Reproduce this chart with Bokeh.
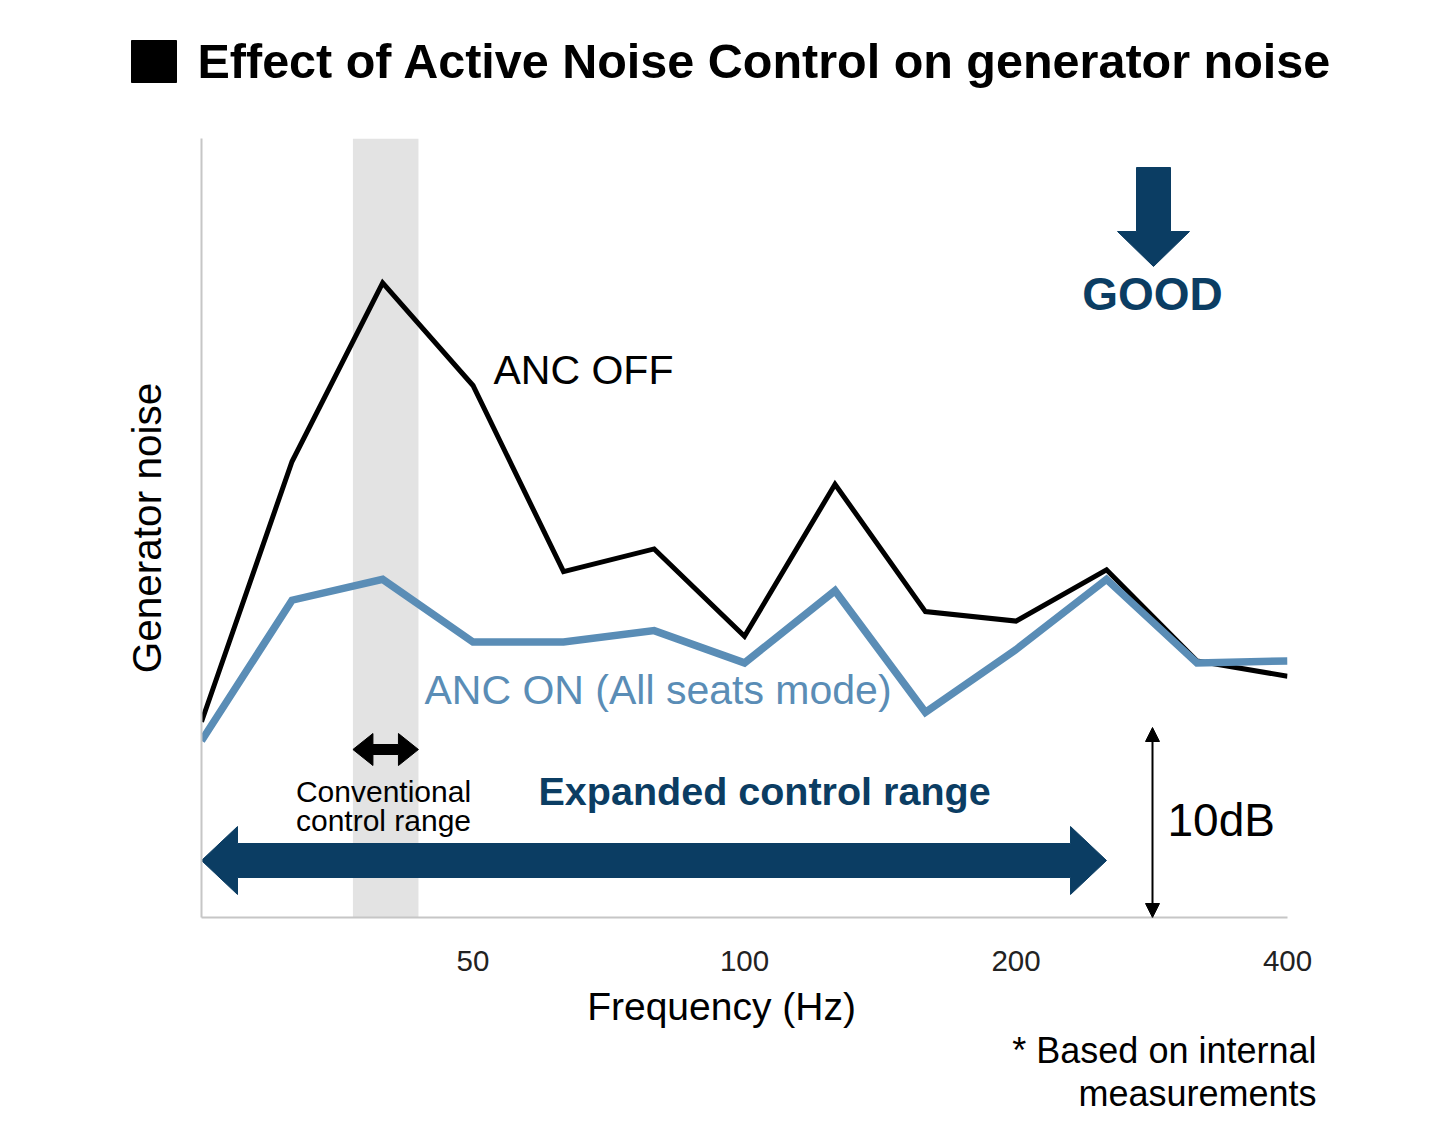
import math
from bokeh.plotting import figure
from bokeh.layouts import column
from bokeh.models import (Range1d, FixedTicker, Label, Arrow, NormalHead,
                          BoxAnnotation, NumeralTickFormatter)
from bokeh.embed import file_html
from bokeh.resources import INLINE

# ---------------- data ----------------
# exact 1/3-octave band centre frequencies (Hz), 25 ... 400
freqs = [25, 31.5, 39.7, 50, 63, 79.4, 100, 126, 158.7, 200, 252, 317.5, 400]
anc_off = [10.3, 24.0, 33.4, 28.0, 18.2, 19.4, 14.8, 22.8, 16.1, 15.6, 18.3, 13.5, 12.7]
anc_on = [9.3, 16.7, 17.8, 14.5, 14.5, 15.1, 13.4, 17.2, 10.8, 14.1, 17.8, 13.4, 13.5]
x_ticks = [50, 100, 200, 400]
conventional_range = [36.8, 43.5]
expanded_range = [25, 252]
scale_bar_db = 10

title_text = "Effect of Active Noise Control on generator noise"
x_title = "Frequency (Hz)"
y_title = "Generator noise"
footnote_lines = ["* Based on internal", "measurements"]

# ---------------- layout ----------------
W, H = 1440, 1132
TOP_H = 120          # title strip
MAIN_BOTTOM = 985    # bottom of main figure (page px)
L, R, T, B = 201, 1287, 138, 917   # plot frame (page px)
X_MIN, X_MAX = 25, 400
Y_MIN, Y_MAX = 0, 41.0

NAVY = "#0b3d63"
BLUE = "#5a8db6"
FONT = "Liberation Sans"
BASE_SHIFT = 0.4     # em correction for alphabetic baseline placement


def px_x(f):
    return L + (R - L) * math.log(f / X_MIN) / math.log(X_MAX / X_MIN)


def dx(px):
    return X_MIN * (X_MAX / X_MIN) ** ((px - L) / (R - L))


def dy(py):
    return Y_MIN + (B - py) / (B - T) * (Y_MAX - Y_MIN)


def bare_fig(height, y0, y1):
    f = figure(width=W, height=height, x_range=Range1d(0, W), y_range=Range1d(y1, y0),
               x_axis_location=None, y_axis_location=None, min_border=0,
               output_backend="svg", toolbar_location=None, frame_align=False)
    f.outline_line_color = None
    f.grid.visible = False
    f.background_fill_color = "white"
    f.border_fill_color = "white"
    return f


def plain_label(fig, x, base, text, size, align="left", bold=False, color="black"):
    fig.add_layout(Label(x=x, y=base - BASE_SHIFT * size, text=text, text_font=FONT,
                         text_font_size=f"{size}px", text_color=color,
                         text_font_style="bold" if bold else "normal",
                         text_align=align, text_baseline="alphabetic"))


# ---------------- title strip ----------------
ft = bare_fig(TOP_H, 0, TOP_H)
ft.quad(left=131, right=176, top=40, bottom=82, fill_color="black", line_color="black")
plain_label(ft, 197, 80, title_text, 48.5, bold=True)

# ---------------- main chart ----------------
p = figure(width=W, height=MAIN_BOTTOM - TOP_H, x_axis_type="log",
           x_range=Range1d(X_MIN, X_MAX), y_range=Range1d(Y_MIN, Y_MAX),
           output_backend="svg", toolbar_location=None, frame_align=False,
           min_border_left=L, min_border_right=W - R,
           min_border_top=T - TOP_H, min_border_bottom=MAIN_BOTTOM - B)
p.outline_line_color = None
p.xgrid.visible = False
p.ygrid.visible = False
p.background_fill_color = "white"
p.border_fill_color = "white"

xa = p.xaxis[0]
xa.ticker = FixedTicker(ticks=x_ticks, minor_ticks=[])
xa.formatter = NumeralTickFormatter(format="0")
xa.major_tick_line_color = None
xa.minor_tick_line_color = None
xa.axis_line_color = "#c6c6c6"
xa.axis_line_width = 2
xa.major_label_text_font = FONT
xa.major_label_text_font_size = "29.5px"
xa.major_label_text_color = "#222222"
xa.major_label_standoff = 27

ya = p.yaxis[0]
ya.ticker = FixedTicker(ticks=[], minor_ticks=[])
ya.major_tick_line_color = None
ya.minor_tick_line_color = None
ya.major_label_text_font_size = "0px"
ya.axis_line_color = "#c6c6c6"
ya.axis_line_width = 2
ya.axis_label = y_title
ya.axis_label_text_font = FONT
ya.axis_label_text_font_size = "40.5px"
ya.axis_label_text_font_style = "normal"
ya.axis_label_text_color = "black"
ya.axis_label_standoff = 32

# conventional control band
p.add_layout(BoxAnnotation(left=conventional_range[0], right=conventional_range[1],
                           fill_color="#e3e3e3", fill_alpha=1, line_color=None,
                           level="underlay"))

# series
p.line(freqs, anc_off, line_color="black", line_width=5, line_join="miter")
p.line(freqs, anc_on, line_color=BLUE, line_width=7.5, line_join="miter")


def double_arrow(f0, f1, y, sh, hh, hl):
    x0, x1 = px_x(f0), px_x(f1)
    pts = [(x0, y), (x0 + hl, y - hh), (x0 + hl, y - sh), (x1 - hl, y - sh),
           (x1 - hl, y - hh), (x1, y), (x1 - hl, y + hh), (x1 - hl, y + sh),
           (x0 + hl, y + sh), (x0 + hl, y + hh)]
    return [dx(a) for a, b in pts], [dy(b) for a, b in pts]


bx, by = double_arrow(expanded_range[0], expanded_range[1], 860, 17, 34, 36)
p.patch(bx, by, fill_color=NAVY, line_color=NAVY, line_width=1)

sx, sy = double_arrow(conventional_range[0], conventional_range[1], 749, 5, 16, 20)
p.patch(sx, sy, fill_color="black", line_color="black", line_width=1)

# GOOD arrow
g_pts = [(1136, 167), (1170, 167), (1170, 231), (1189, 231), (1153, 266),
         (1117, 231), (1136, 231)]
p.patch([dx(a) for a, b in g_pts], [dy(b) for a, b in g_pts],
        fill_color=NAVY, line_color=NAVY, line_width=1)

# 10 dB scale bar
xs_bar = dx(1152)
p.add_layout(Arrow(x_start=xs_bar, y_start=0, x_end=xs_bar, y_end=scale_bar_db,
                   line_width=2, line_color="black",
                   start=NormalHead(size=14, fill_color="black", line_color="black"),
                   end=NormalHead(size=14, fill_color="black", line_color="black")))


def lab(px, py, text, size, color="black", bold=False, align="left"):
    p.add_layout(Label(x=dx(px), y=dy(py - BASE_SHIFT * size), text=text, text_font=FONT,
                       text_font_size=f"{size}px", text_color=color,
                       text_font_style="bold" if bold else "normal",
                       text_align=align, text_baseline="alphabetic"))


lab(493, 386, "ANC OFF", 41)
lab(424, 706, "ANC ON (All seats mode)", 41, color=BLUE)
lab(383, 803, "Conventional", 30, align="center")
lab(383, 832, "control range", 30, align="center")
lab(538, 806, "Expanded control range", 39.5, color=NAVY, bold=True)
lab(1167, 838, "10dB", 46)
lab(1152, 312, "GOOD", 46, color=NAVY, bold=True, align="center")

# ---------------- bottom strip: x title + footnote ----------------
fb = bare_fig(H - MAIN_BOTTOM, MAIN_BOTTOM, H)
plain_label(fb, 721, 1022, x_title, 39, align="center")
for line, base in zip(footnote_lines, [1064, 1107]):
    plain_label(fb, 1316, base, line, 36, align="right")

layout = column(ft, p, fb, spacing=0)
open("out.html", "w").write(file_html(layout, INLINE))
